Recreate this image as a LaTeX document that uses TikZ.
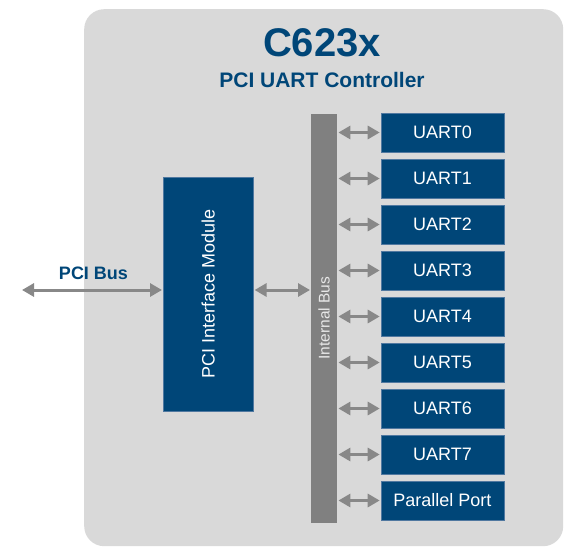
\documentclass[tikz,border=0pt]{standalone}
\usepackage{fontspec}
\setmainfont{Liberation Sans}
\usetikzlibrary{arrows.meta}
\definecolor{navy}{RGB}{0,70,120}
\definecolor{panel}{RGB}{217,217,217}
\definecolor{busgray}{RGB}{128,128,128}
\definecolor{arrgray}{RGB}{136,136,136}
\definecolor{edgeblue}{RGB}{80,120,160}
\tikzset{
  blk/.style={fill=navy, draw=edgeblue, line width=0.6pt, text=white, inner sep=0pt, font=\fontsize{18}{20}\selectfont},
  uartbox/.style={blk, minimum width=123pt, minimum height=39pt},
  link/.style={draw=arrgray, line width=3pt, {Triangle[length=12pt,width=13pt]}-{Triangle[length=12pt,width=13pt]}, shorten <=1pt, shorten >=1pt}
}
\begin{document}
\begin{tikzpicture}[x=1pt,y=-1pt]
\useasboundingbox (0,0) rectangle (568,552);
\node[fill=panel, rounded corners=20pt, minimum width=479pt, minimum height=537pt, inner sep=0pt, anchor=north west] (chip) at (84,9) {};
\node[text=navy, font=\fontsize{40}{44}\selectfont\bfseries] (title) at (322,43) {C623x};
\node[text=navy, font=\fontsize{21}{24}\selectfont\bfseries] (subtitle) at (322,80) {PCI UART Controller};
\node[fill=busgray, minimum width=26pt, minimum height=409pt, inner sep=0pt, anchor=north west] (ibus) at (311,114) {};
\node[text=panel!60!white, rotate=90, font=\fontsize{15.5}{18}\selectfont] (ibuslabel) at (324,318) {Internal Bus};
\node[blk, minimum width=90pt, minimum height=234pt, anchor=north west] (pim) at (163,177) {};
\node[text=white, rotate=90, font=\fontsize{18}{20}\selectfont] (pimlabel) at (pim.center) {PCI Interface Module};
\coordinate (ext) at (21,290);
\draw[link] (ext) -- (ext -| pim.west);
\node[text=navy, font=\fontsize{18}{20}\selectfont\bfseries] (pcibus) at (93.5,273) {PCI Bus};
\draw[link] (pim.east |- ext) -- (ibus.west |- ext);
\foreach \i in {0,...,7} {
  \node[uartbox] (u\i) at (442.5,{132.5+46*\i}) {UART\i};
  \draw[link] (ibus.east |- u\i.west) -- (u\i.west);
}
\node[uartbox] (pp) at (442.5,500.5) {Parallel Port};
\draw[link] (ibus.east |- pp.west) -- (pp.west);
\end{tikzpicture}
\end{document}
